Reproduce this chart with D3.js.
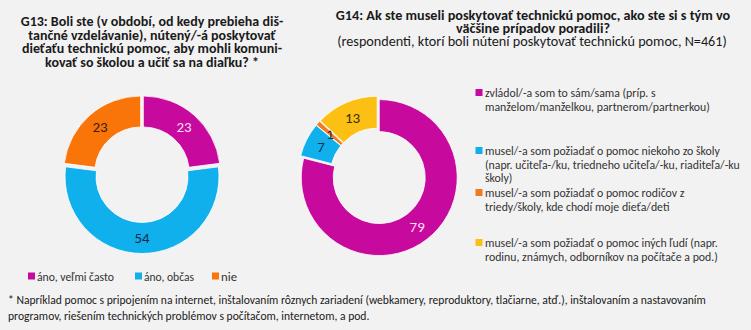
<!DOCTYPE html>
<html>
<head>
<meta charset="utf-8">
<script src="https://cdn.jsdelivr.net/npm/d3@7"></script>
<style>
html,body{margin:0;padding:0;background:#f2f2f2;}
svg{display:block;font-family:Carlito,Lato,"Open Sans",sans-serif;}
</style>
</head>
<body>
<svg id="chart" width="751" height="330"></svg>
<script>
// ---- data ----
const g13Title = ["G13: Boli ste (v období, od kedy prebieha diš-", "tančné vzdelávanie), nútený/-á poskytovať", "dieťaťu technickú pomoc, aby mohli komuni-", "kovať so školou a učiť sa na diaľku? *"];
const g13Categories = ["áno, veľmi často", "áno, občas", "nie"];
const g13Values = [23, 54, 23];
const g14Title = ["G14: Ak ste museli poskytovať technickú pomoc, ako ste si s tým vo", "väčšine prípadov poradili?"];
const g14Subtitle = "(respondenti, ktorí boli nútení poskytovať technickú pomoc, N=461)";
const g14Categories = [
  ["zvládol/-a som to sám/sama (príp. s", "manželom/manželkou, partnerom/partnerkou)"],
  ["musel/-a som požiadať o pomoc niekoho zo školy", "(napr. učiteľa-/ku, triedneho učiteľa/-ku, riaditeľa/-ku", "školy)"],
  ["musel/-a som požiadať o pomoc rodičov z", "triedy/školy, kde chodí moje dieťa/deti"],
  ["musel/-a som požiadať o pomoc iných ľudí (napr.", "rodinu, známych, odborníkov na počítače a pod.)"]
];
const g14Values = [79, 7, 1, 13];
const footnote = ["* Napríklad pomoc s pripojením na internet, inštalovaním rôznych zariadení (webkamery, reproduktory, tlačiarne, atď.), inštalovaním a nastavovaním", "programov, riešením technických problémov s počítačom, internetom, a pod."];

const g13Colors = ["#c8099e", "#0fb0ec", "#f97409"];
const g14Colors = ["#c8099e", "#0fb0ec", "#f07a1e", "#fcbf14"];
const g13LabelColors = ["#fbe0f4", "#1b2a4a", "#3a1d0a"];
const g14LabelColors = ["#fbe0f4", "#1b2a4a", "#1b2a4a", "#3a2a08"];

const svg = d3.select("#chart");

function donut(cx, cy, values, colors, labelColors, rOuter, rInner, explode) {
  const pie = d3.pie().sort(null).value(d => d);
  const arc = d3.arc().innerRadius(rInner).outerRadius(rOuter);
  const labelArc = d3.arc().innerRadius((rInner + rOuter) / 2).outerRadius((rInner + rOuter) / 2);
  const g = svg.append("g").attr("transform", `translate(${cx},${cy})`);
  const arcs = pie(values);
  const slice = g.selectAll("g.slice").data(arcs).enter().append("g")
    .attr("transform", d => {
      const m = (d.startAngle + d.endAngle) / 2;
      return `translate(${explode * Math.sin(m)},${-explode * Math.cos(m)})`;
    });
  slice.append("path").attr("d", arc)
    .attr("fill", (d, i) => colors[i])
    .attr("stroke", "#ffffff").attr("stroke-width", 0.8);
  slice.append("text")
    .attr("transform", d => `translate(${labelArc.centroid(d)})`)
    .attr("text-anchor", "middle").attr("dy", "0.36em")
    .attr("font-size", 15)
    .attr("fill", (d, i) => labelColors[i])
    .text(d => d.data);
}

// ---- G13 ----
const t1 = svg.append("text").attr("text-anchor", "middle")
  .attr("font-size", 14).attr("font-weight", "bold").attr("fill", "#1a1a1a");
g13Title.forEach((l, i) => t1.append("tspan").attr("x", 152).attr("y", 26 + i * 13.7).text(l));

donut(142, 174.5, g13Values, g13Colors, g13LabelColors, 77, 46, 2);

const legX = [28, 135, 212];
const legW = [77, 50, 16];
g13Categories.forEach((c, i) => {
  svg.append("rect").attr("x", legX[i]).attr("y", 272.5).attr("width", 7).attr("height", 7).attr("fill", g13Colors[i]);
  svg.append("text").attr("x", legX[i] + 9).attr("y", 280.5).attr("font-size", 12.5).attr("fill", "#333")
    .attr("textLength", legW[i]).attr("lengthAdjust", "spacingAndGlyphs").text(c);
});

// ---- G14 ----
const t2 = svg.append("text").attr("text-anchor", "middle").attr("font-size", 14.2)
  .attr("font-weight", "bold").attr("fill", "#1a1a1a");
g14Title.forEach((l, i) => t2.append("tspan").attr("x", 533).attr("y", 20 + i * 13).text(l));
svg.append("text").attr("x", 532).attr("y", 45.5).attr("text-anchor", "middle")
  .attr("font-size", 14.2).attr("fill", "#1a1a1a").text(g14Subtitle);

donut(378, 176, g14Values, g14Colors, g14LabelColors, 78, 46, 2);

const legY = [93, 151, 193, 243];
g14Categories.forEach((lines, i) => {
  svg.append("rect").attr("x", 475.5).attr("y", legY[i] - 4).attr("width", 7).attr("height", 7).attr("fill", g14Colors[i]);
  const t = svg.append("text").attr("font-size", 11.8).attr("fill", "#333");
  lines.forEach((l, j) => t.append("tspan").attr("x", 485).attr("y", legY[i] + 4 + j * 13.6).text(l));
});

// ---- footnote ----
const f = svg.append("text").attr("font-size", 11.6).attr("fill", "#1a1a1a");
footnote.forEach((l, i) => f.append("tspan").attr("x", 8).attr("y", 304 + i * 16).text(l));
</script>
</body>
</html>
